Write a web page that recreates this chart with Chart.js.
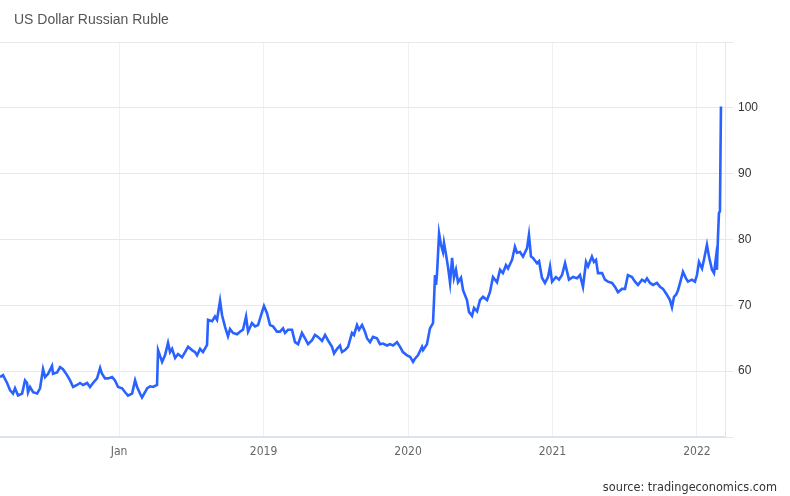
<!DOCTYPE html>
<html>
<head>
<meta charset="utf-8">
<script src="https://cdn.jsdelivr.net/npm/chart.js@4/dist/chart.umd.min.js"></script>
<style>
  html, body { margin: 0; padding: 0; background: #fff; }
  #wrap { position: relative; width: 790px; height: 496px; }
  #title { position: absolute; left: 14px; top: 11px; font: 14px "Liberation Sans", Arial, sans-serif; color: #555; }
  #source { position: absolute; right: 13px; top: 479px; font: 12.6px "Liberation Sans Narrow", "DejaVu Sans Condensed", sans-serif; color: #333; }
  canvas { position: absolute; left: 0; top: 0; }
</style>
</head>
<body>
<div id="wrap">
  <canvas id="chart" width="790" height="496"></canvas>
  <div id="title">US Dollar Russian Ruble</div>
  <div id="source">source: tradingeconomics.com</div>
</div>
<script>
// time in decimal years
const times = [
  2017.176, 2017.197, 2017.225, 2017.246, 2017.266, 2017.280, 2017.301, 2017.329, 2017.349, 2017.363,
  2017.370, 2017.384, 2017.405, 2017.433, 2017.453, 2017.474, 2017.488, 2017.509, 2017.536, 2017.543,
  2017.571, 2017.592, 2017.612, 2017.640, 2017.661, 2017.682, 2017.709, 2017.730, 2017.751, 2017.779,
  2017.799, 2017.820, 2017.848, 2017.869, 2017.882, 2017.903, 2017.924, 2017.952, 2017.972, 2017.993,
  2018.021, 2018.042, 2018.062, 2018.090, 2018.111, 2018.125, 2018.145, 2018.159, 2018.180, 2018.194,
  2018.215, 2018.235, 2018.263, 2018.270, 2018.298, 2018.318, 2018.339, 2018.353, 2018.367, 2018.388,
  2018.408, 2018.436, 2018.457, 2018.478, 2018.505, 2018.526, 2018.540, 2018.561, 2018.581, 2018.609,
  2018.616, 2018.644, 2018.664, 2018.678, 2018.699, 2018.713, 2018.734, 2018.754, 2018.768, 2018.789,
  2018.817, 2018.837, 2018.858, 2018.879, 2018.893, 2018.920, 2018.941, 2018.962, 2018.990, 2019.003,
  2019.024, 2019.045, 2019.066, 2019.093, 2019.114, 2019.135, 2019.149, 2019.170, 2019.197, 2019.218,
  2019.239, 2019.266, 2019.287, 2019.308, 2019.336, 2019.356, 2019.377, 2019.405, 2019.426, 2019.446,
  2019.474, 2019.488, 2019.509, 2019.529, 2019.543, 2019.564, 2019.585, 2019.612, 2019.626, 2019.647,
  2019.661, 2019.682, 2019.702, 2019.716, 2019.737, 2019.758, 2019.785, 2019.806, 2019.827, 2019.855,
  2019.875, 2019.896, 2019.924, 2019.945, 2019.965, 2019.993, 2020.014, 2020.035, 2020.048, 2020.069,
  2020.097, 2020.104, 2020.131, 2020.152, 2020.173, 2020.180, 2020.187, 2020.194, 2020.201, 2020.215,
  2020.228, 2020.242, 2020.249, 2020.263, 2020.277, 2020.291, 2020.305, 2020.318, 2020.332, 2020.346,
  2020.367, 2020.381, 2020.408, 2020.422, 2020.443, 2020.457, 2020.478, 2020.498, 2020.519, 2020.547,
  2020.567, 2020.588, 2020.616, 2020.637, 2020.657, 2020.678, 2020.692, 2020.720, 2020.740, 2020.754,
  2020.775, 2020.796, 2020.824, 2020.837, 2020.851, 2020.865, 2020.893, 2020.907, 2020.927, 2020.948,
  2020.969, 2020.983, 2020.997, 2021.024, 2021.045, 2021.066, 2021.087, 2021.100, 2021.114, 2021.142,
  2021.170, 2021.190, 2021.211, 2021.232, 2021.246, 2021.273, 2021.287, 2021.301, 2021.315, 2021.343,
  2021.363, 2021.384, 2021.412, 2021.433, 2021.453, 2021.481, 2021.502, 2021.522, 2021.550, 2021.571,
  2021.592, 2021.619, 2021.640, 2021.654, 2021.675, 2021.696, 2021.723, 2021.744, 2021.765, 2021.792,
  2021.813, 2021.827, 2021.841, 2021.855, 2021.869, 2021.889, 2021.903, 2021.924, 2021.938, 2021.965,
  2021.986, 2022.000, 2022.014, 2022.035, 2022.048, 2022.069, 2022.083, 2022.104, 2022.118, 2022.131,
  2022.138, 2022.145, 2022.152, 2022.159, 2022.166
];

// USD/RUB rate
const rates = [
  59.1, 59.4, 58.2, 57.1, 56.6, 57.4, 56.3, 56.6, 58.6, 58.2,
  56.8, 57.6, 56.8, 56.6, 57.4, 60.3, 59.1, 59.6, 60.8, 59.6,
  59.8, 60.6, 60.3, 59.4, 58.6, 57.6, 57.9, 58.2, 57.9, 58.2,
  57.6, 58.2, 58.9, 60.5, 59.6, 58.9, 58.9, 59.1, 58.6, 57.6,
  57.4, 56.8, 56.3, 56.6, 58.6, 57.6, 56.6, 56.0, 56.8, 57.4,
  57.7, 57.6, 57.9, 63.2, 61.4, 62.4, 64.3, 62.9, 63.4, 62.0,
  62.6, 62.1, 62.9, 63.7, 63.2, 62.9, 62.4, 63.4, 62.9, 64.0,
  67.8, 67.6, 68.3, 67.8, 70.7, 68.5, 66.7, 65.3, 66.4, 65.8,
  65.6, 66.0, 66.3, 68.3, 66.0, 67.3, 66.8, 67.0, 69.0, 69.9,
  68.8, 67.0, 66.8, 66.0, 66.0, 66.5, 65.8, 66.3, 66.3, 64.4,
  64.1, 65.8, 65.0, 64.1, 64.7, 65.5, 65.2, 64.6, 65.5, 64.7,
  63.7, 62.7, 63.4, 63.9, 62.9, 63.2, 63.7, 65.8, 65.5, 67.0,
  66.3, 67.0, 66.0, 65.0, 64.4, 65.2, 65.0, 64.1, 64.2, 63.9,
  64.1, 63.9, 64.4, 63.7, 62.9, 62.4, 62.2, 61.4, 61.9, 62.4,
  63.7, 63.2, 64.1, 66.5, 67.3, 70.8, 74.6, 73.1, 74.9, 80.9,
  79.2, 78.1, 79.5, 77.7, 75.8, 73.4, 77.2, 74.2, 75.4, 73.5,
  74.2, 72.3, 70.8, 69.0, 68.4, 69.6, 69.1, 70.8, 71.3, 70.8,
  72.0, 74.3, 73.5, 75.4, 74.9, 76.1, 75.6, 76.9, 78.9, 78.0,
  78.1, 77.4, 78.7, 80.7, 77.4, 77.2, 76.4, 76.7, 74.2, 73.4,
  74.3, 75.9, 73.6, 74.3, 73.9, 74.6, 76.4, 75.2, 73.9, 74.3,
  74.1, 74.6, 72.8, 76.6, 75.9, 77.4, 76.6, 76.9, 74.9, 74.9,
  73.9, 73.6, 73.4, 72.8, 72.0, 72.5, 72.5, 74.6, 74.3, 73.6,
  73.1, 73.9, 73.6, 74.1, 73.4, 73.1, 73.4, 72.8, 72.5, 71.6,
  70.8, 69.7, 71.3, 71.6, 72.3, 73.9, 75.1, 74.1, 73.6, 73.9,
  73.6, 74.6, 76.6, 75.6, 76.9, 79.2, 77.4, 75.4, 74.9, 77.2,
  75.4, 80.2, 84.0, 84.3, 100.2
];

const xTickValues = [2018, 2019, 2020, 2021, 2022];
const xTickLabels = ["Jan", "2019", "2020", "2021", "2022"];
const yTickValues = [60, 70, 80, 90, 100];

const points = times.map((t, i) => ({ x: t, y: rates[i] }));

new Chart(document.getElementById("chart"), {
  type: "line",
  data: {
    datasets: [{
      data: points,
      borderColor: "#2962ff",
      borderWidth: 2.6,
      pointRadius: 0,
      tension: 0,
      fill: false
    }]
  },
  options: {
    responsive: false,
    animation: false,
    layout: { padding: { left: 0, top: 42, right: 0, bottom: 0 } },
    plugins: { legend: { display: false }, tooltip: { enabled: false } },
    scales: {
      x: {
        type: "linear",
        min: 2017.176,
        max: 2022.194,
        afterBuildTicks: axis => { axis.ticks = xTickValues.map(v => ({ value: v })); },
        afterFit: axis => { axis.height = 59; },
        ticks: {
          autoSkip: false,
          maxRotation: 0,
          padding: 8,
          color: "#666",
          font: { family: "'Liberation Sans Narrow', 'DejaVu Sans Condensed', sans-serif", size: 12 },
          callback: v => xTickLabels[xTickValues.indexOf(v)]
        },
        grid: { color: "#eef0f4", drawTicks: false },
        border: { color: "#dde3ee", width: 2 }
      },
      y: {
        position: "right",
        min: 50,
        max: 110,
        afterBuildTicks: axis => { axis.ticks = [50, 60, 70, 80, 90, 100, 110].map(v => ({ value: v })); },
        afterFit: axis => { axis.width = 65; },
        ticks: {
          padding: 5,
          color: "#333",
          font: { family: "'Liberation Sans', Arial, sans-serif", size: 12 },
          callback: v => yTickValues.includes(v) ? String(v) : ""
        },
        grid: { color: "#e8e8e8", tickLength: 8 },
        border: { color: "#e6e6e6" }
      }
    }
  }
});
</script>
</body>
</html>
